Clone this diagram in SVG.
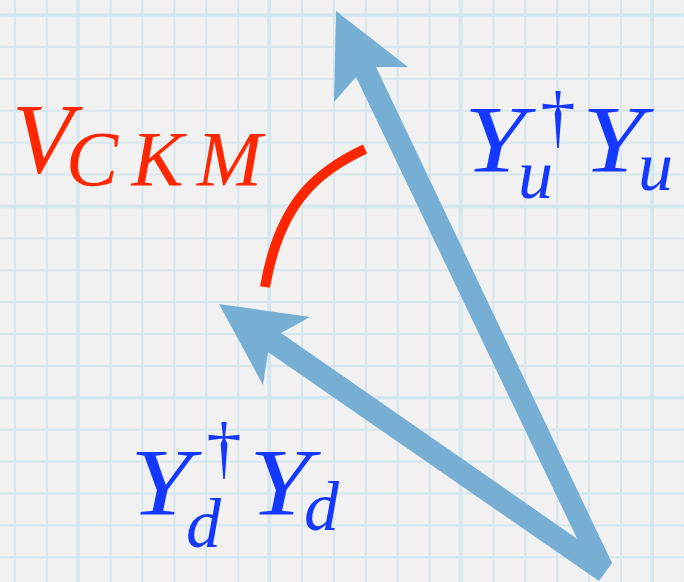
<svg xmlns="http://www.w3.org/2000/svg" width="684" height="582" viewBox="0 0 684 582">
  <style>
    text { font-family: "Liberation Serif", "Times New Roman", serif; }
    .math { font-style: italic; }
    .dag { font-style: normal; }
    .blue { fill: #1438ff; }
    .red { fill: #ff2600; }
    .arrow { fill: #76afd3; }
  </style>
  <defs>
    <pattern id="minor" patternUnits="userSpaceOnUse" x="-1.05" y="-0.95" width="31.9" height="31.9">
      <line x1="15.95" y1="0" x2="15.95" y2="31.9" stroke="#d5e6ed" stroke-width="2"/>
      <line x1="0" y1="15.95" x2="31.9" y2="15.95" stroke="#d5e6ed" stroke-width="2"/>
    </pattern>
    <pattern id="majorV" patternUnits="userSpaceOnUse" x="-18" y="0" width="191.4" height="582">
      <line x1="95.7" y1="0" x2="95.7" y2="582" stroke="#d4e6ee" stroke-width="3.5"/>
    </pattern>
    <pattern id="majorH" patternUnits="userSpaceOnUse" x="0" y="-80.7" width="684" height="191.4">
      <line x1="0" y1="95.7" x2="684" y2="95.7" stroke="#d4e6ee" stroke-width="3.5"/>
    </pattern>
  </defs>

  <g id="background">
    <rect width="684" height="582" fill="#f1f1f1"/>
    <rect width="684" height="582" fill="url(#minor)"/>
    <rect width="684" height="582" fill="url(#majorV)"/>
    <rect width="684" height="582" fill="url(#majorH)"/>
  </g>

  <g id="connectors">
    <polygon id="arrow-Yu" class="arrow" points="336,11 408,67 376,67 612,563 593,572 356,77 334,102"/>
    <polygon id="arrow-Yd" class="arrow" points="219,304 310,317 281,333 612,563 599,581 268,352 263,385"/>
    <path id="arc-VCKM" d="M365,149 C320,170 280,200 265,287" fill="none" stroke="#ff2600" stroke-width="10"/>
  </g>

  <g id="label-VCKM" class="red" font-family="Liberation Serif, serif">
    <text class="math" x="12" y="172" font-size="100">V</text>
    <text class="math" x="66" y="185" font-size="78" textLength="196" lengthAdjust="spacing">CKM</text>
  </g>

  <g id="label-YuYu" class="blue" font-family="Liberation Serif, serif">
    <text class="math" x="464" y="172" font-size="96" textLength="62" lengthAdjust="spacingAndGlyphs">Y</text>
    <text class="dag" x="558" y="140" font-size="70" text-anchor="middle">†</text>
    <text class="math" x="518" y="198" font-size="70">u</text>
    <text class="math" x="582" y="172" font-size="96" textLength="62" lengthAdjust="spacingAndGlyphs">Y</text>
    <text class="math" x="638" y="190" font-size="70">u</text>
  </g>

  <g id="label-YdYd" class="blue" font-family="Liberation Serif, serif">
    <text class="math" x="130" y="515" font-size="96" textLength="62" lengthAdjust="spacingAndGlyphs">Y</text>
    <text class="dag" x="224" y="471" font-size="70" text-anchor="middle">†</text>
    <text class="math" x="186" y="547" font-size="70">d</text>
    <text class="math" x="249" y="515" font-size="96" textLength="62" lengthAdjust="spacingAndGlyphs">Y</text>
    <text class="math" x="304" y="530" font-size="70">d</text>
  </g>
</svg>
